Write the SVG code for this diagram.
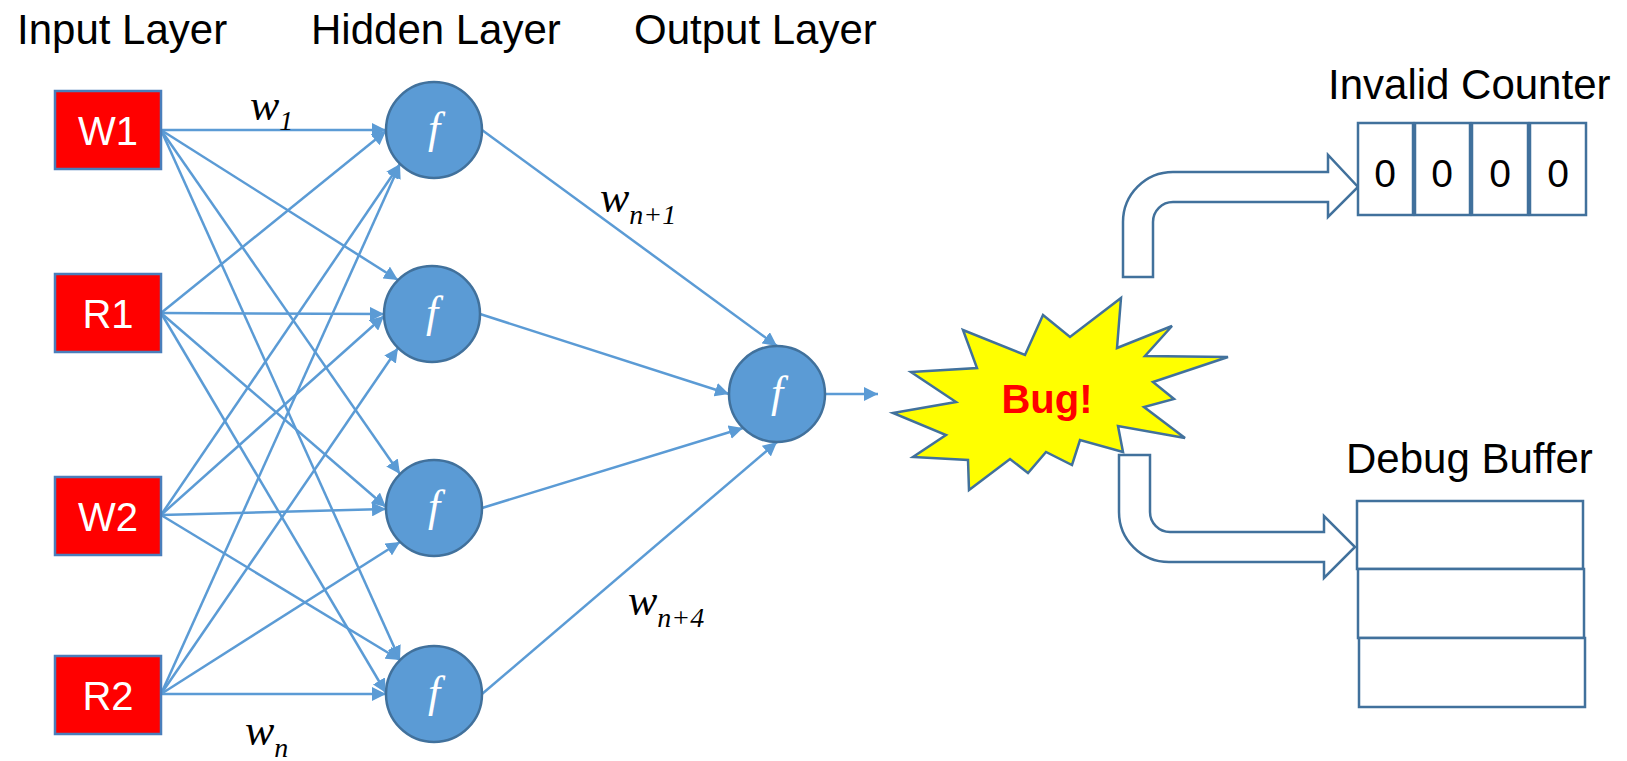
<svg xmlns="http://www.w3.org/2000/svg" width="1627" height="761" viewBox="0 0 1627 761">
<defs>
<marker id="ah" markerUnits="userSpaceOnUse" markerWidth="14" markerHeight="14" viewBox="0 0 14 14" refX="14" refY="7" orient="auto">
<path d="M0,0 L14,7 L0,14 z" fill="#5B9BD5"/>
</marker>
</defs>
<style>
.title{font-family:"Liberation Sans",Arial,sans-serif;font-size:42px;fill:#000}
.inbox{fill:#FF0000;stroke:#4A7EBB;stroke-width:2.5}
.intext{font-family:"Liberation Sans",Arial,sans-serif;font-size:40px;fill:#fff;text-anchor:middle}
.neuron{fill:#5B9BD5;stroke:#41719C;stroke-width:2.5}
.ftext{font-family:"Liberation Serif","Times New Roman",serif;font-style:italic;font-size:44px;fill:#fff;text-anchor:middle}
.conn line{stroke:#5B9BD5;stroke-width:2.5;marker-end:url(#ah)}
.wlab{font-family:"Liberation Serif","Times New Roman",serif;font-style:italic;font-size:44px;fill:#000}
.wsub{font-size:28px}
.outline{fill:#fff;stroke:#41719C;stroke-width:2.5}
.cell{fill:#fff;stroke:#41719C;stroke-width:2.5}
.zero{font-family:"Liberation Sans",Arial,sans-serif;font-size:39px;fill:#000;text-anchor:middle}
</style>
<rect width="1627" height="761" fill="#fff"/>

<g id="titles">
<text class="title" x="17" y="44">Input Layer</text>
<text class="title" x="311" y="44">Hidden Layer</text>
<text class="title" x="634" y="44">Output Layer</text>
<text class="title" x="1328" y="99">Invalid Counter</text>
<text class="title" x="1346" y="473">Debug Buffer</text>
</g>

<g id="connectors" class="conn">
<line x1="161" y1="130" x2="386" y2="130"/>
<line x1="161" y1="130" x2="398" y2="280"/>
<line x1="161" y1="130" x2="400" y2="474"/>
<line x1="161" y1="130" x2="400" y2="660"/>
<line x1="161" y1="313" x2="386" y2="131"/>
<line x1="161" y1="313" x2="384" y2="314"/>
<line x1="161" y1="313" x2="386" y2="507"/>
<line x1="161" y1="313" x2="386" y2="693"/>
<line x1="161" y1="515" x2="400" y2="164"/>
<line x1="161" y1="515" x2="384" y2="316"/>
<line x1="161" y1="515" x2="386" y2="509"/>
<line x1="161" y1="515" x2="400" y2="660"/>
<line x1="161" y1="694" x2="400" y2="164"/>
<line x1="161" y1="694" x2="398" y2="348"/>
<line x1="161" y1="694" x2="400" y2="542"/>
<line x1="161" y1="694" x2="386" y2="694"/>
<line x1="482" y1="130" x2="777" y2="346"/>
<line x1="480" y1="314" x2="729" y2="394"/>
<line x1="482" y1="508" x2="743" y2="428"/>
<line x1="482" y1="694" x2="777" y2="442"/>
<line x1="825" y1="394" x2="878" y2="394"/>
</g>

<g id="input-W1"><rect class="inbox" x="55" y="91" width="106" height="78"/><text class="intext" x="108" y="145">W1</text></g>
<g id="input-R1"><rect class="inbox" x="55" y="274" width="106" height="78"/><text class="intext" x="108" y="328">R1</text></g>
<g id="input-W2"><rect class="inbox" x="55" y="477" width="106" height="78"/><text class="intext" x="108" y="531">W2</text></g>
<g id="input-R2"><rect class="inbox" x="55" y="656" width="106" height="78"/><text class="intext" x="108" y="710">R2</text></g>

<g id="hidden-1"><circle class="neuron" cx="434" cy="130" r="48"/><text class="ftext" x="434" y="143">f</text></g>
<g id="hidden-2"><circle class="neuron" cx="432" cy="314" r="48"/><text class="ftext" x="432" y="327">f</text></g>
<g id="hidden-3"><circle class="neuron" cx="434" cy="508" r="48"/><text class="ftext" x="434" y="521">f</text></g>
<g id="hidden-4"><circle class="neuron" cx="434" cy="694" r="48"/><text class="ftext" x="434" y="707">f</text></g>

<g id="output"><circle class="neuron" cx="777" cy="394" r="48"/><text class="ftext" x="777" y="407">f</text></g>

<g id="weight-labels">
<text class="wlab" x="250" y="120">w<tspan class="wsub" dy="10">1</tspan></text>
<text class="wlab" x="600" y="212">w<tspan class="wsub" dy="12">n+1</tspan></text>
<text class="wlab" x="628" y="615">w<tspan class="wsub" dy="12">n+4</tspan></text>
<text class="wlab" x="245" y="745">w<tspan class="wsub" dy="12">n</tspan></text>
</g>

<g id="bug">
<path d="M1121,298 L1117,348 L1172,326 L1145,356 L1228,357 L1153,382 L1174,399 L1144,407 L1185,438 L1118,426 L1123,452 L1080,440 L1072,465 L1046,452 L1028,473 L1010,459 L969,490 L968,460 L913,457 L946,435 L893,413 L956,402 L911,372 L977,368 L963,330 L1025,355 L1043,315 L1070,337 Z" fill="#FFFF00" stroke="#41719C" stroke-width="2.5" stroke-linejoin="miter"/>
<text x="1047" y="413" font-family="'Liberation Sans',Arial,sans-serif" font-size="40" font-weight="bold" fill="#FF0000" text-anchor="middle">Bug!</text>
</g>

<g id="arrow-to-counter">
<path class="outline" d="M1123,277 L1123,222 A50,50 0 0 1 1173,172 L1328,172 L1328,155 L1358,187 L1328,217 L1328,202 L1173,202 A20,20 0 0 0 1153,222 L1153,277 Z"/>
</g>

<g id="arrow-to-buffer">
<path class="outline" d="M1119,455 L1119,512 A50,50 0 0 0 1169,562 L1324,562 L1324,578 L1355,547 L1324,516 L1324,532 L1170,532 A20,20 0 0 1 1150,512 L1150,455 Z"/>
</g>

<g id="invalid-counter">
<rect class="cell" x="1358" y="123" width="55" height="92"/>
<rect class="cell" x="1415" y="123" width="55" height="92"/>
<rect class="cell" x="1472" y="123" width="56" height="92"/>
<rect class="cell" x="1530" y="123" width="56" height="92"/>
<text class="zero" x="1385" y="187">0</text>
<text class="zero" x="1442" y="187">0</text>
<text class="zero" x="1500" y="187">0</text>
<text class="zero" x="1558" y="187">0</text>
</g>

<g id="debug-buffer">
<rect class="cell" x="1357" y="501" width="226" height="68"/>
<rect class="cell" x="1358" y="569" width="226" height="69"/>
<rect class="cell" x="1359" y="638" width="226" height="69"/>
</g>
</svg>
